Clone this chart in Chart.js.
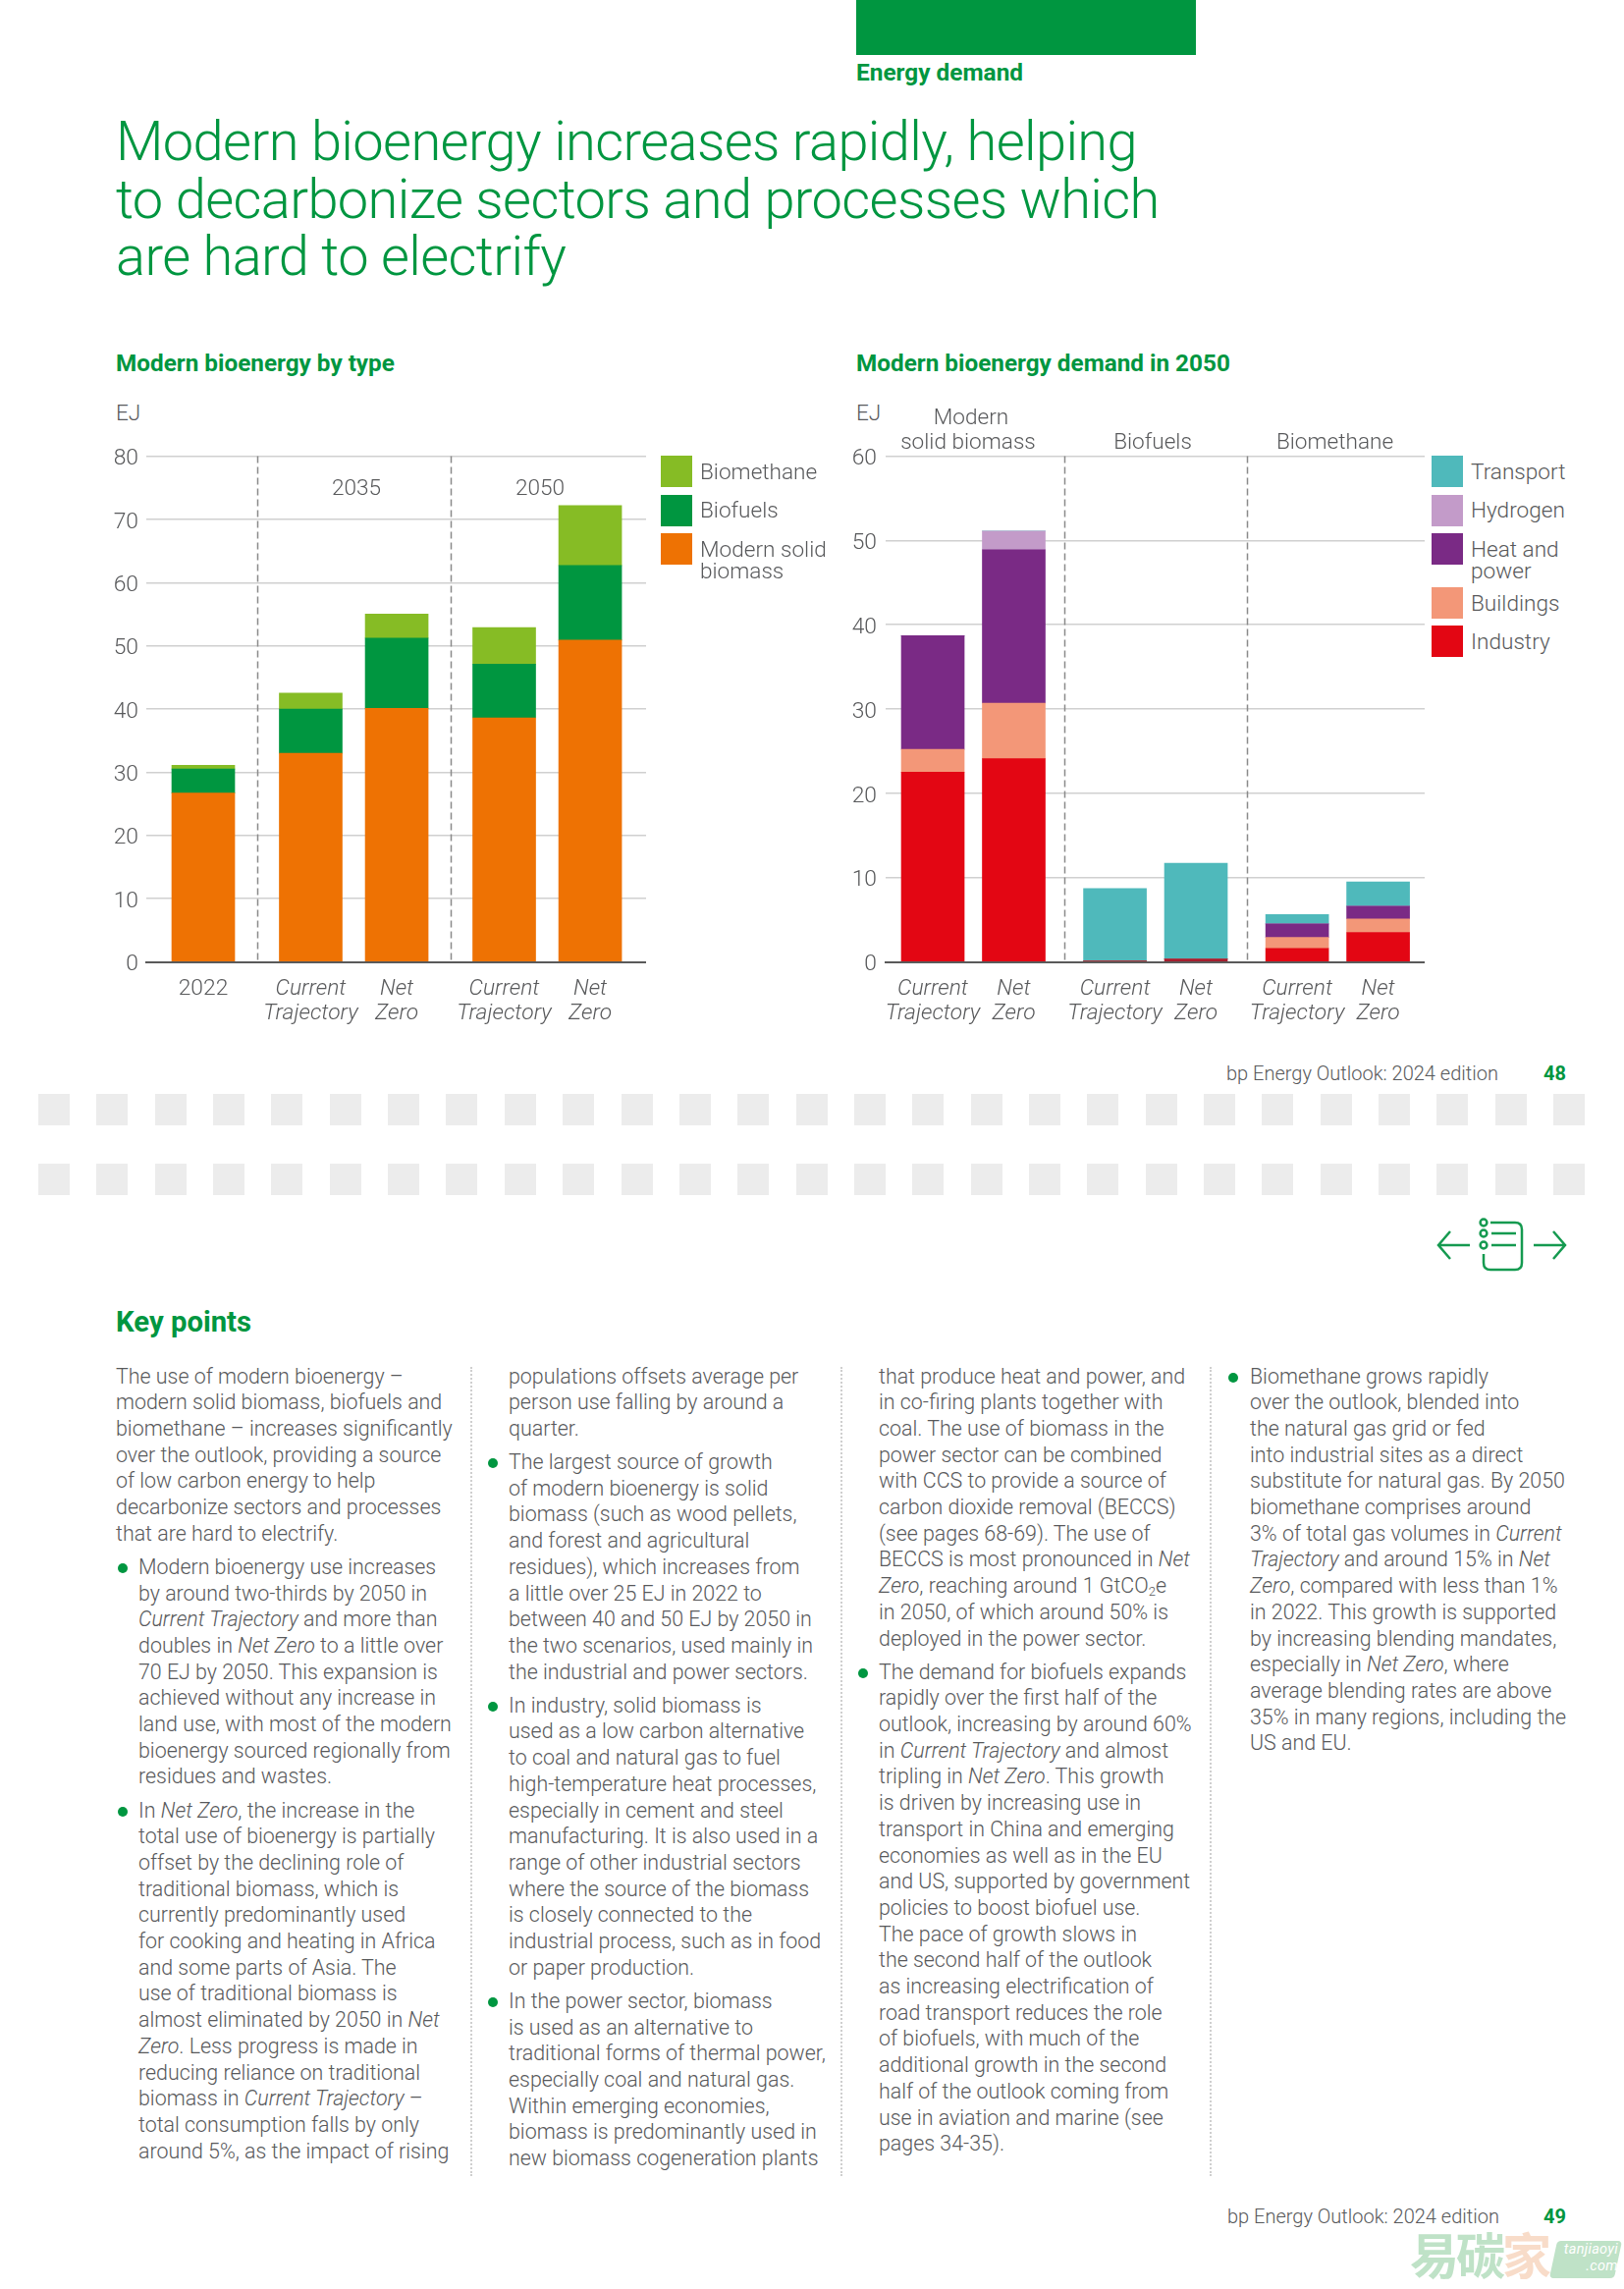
<!DOCTYPE html>
<html><head><meta charset="utf-8">
<script src="https://cdn.jsdelivr.net/npm/chart.js@4"></script>
<style>
html,body{margin:0;padding:0;background:#fff}
body{width:1654px;height:2331px;position:relative;overflow:hidden;font-family:Roboto,sans-serif;font-weight:300;color:#58595b}
.a{position:absolute;white-space:nowrap}
.g{color:#009640}
.b{font-weight:700}
canvas{position:absolute}
.sw{position:absolute;width:32px;height:32px}
.leg{position:absolute;font-size:22.6px;line-height:22px;white-space:nowrap}
.ctr{position:absolute;transform:translateX(-50%);font-size:22.6px;line-height:25px;white-space:nowrap;text-align:center}
.col{position:absolute;top:1388.5px;font-size:21.4px;line-height:26.7px;white-space:nowrap}
.col p{margin:0 0 7.4px 0;position:relative}
.bu{position:absolute;top:9px;width:10px;height:10px;border-radius:50%;background:#009640}
.dot{position:absolute;top:1392px;height:824px;border-left:2.5px dotted #cfcfcf}
sub{font-size:13px;line-height:0;vertical-align:-3px}
</style></head><body>
<div id="chrome"></div>
<div class="a" style="left:872px;top:0;width:346px;height:56px;background:#009640"></div>
<div class="a g b" style="left:872px;top:59.5px;font-size:24.4px;line-height:28px">Energy demand</div>
<div class="a g" style="left:118px;top:115px;font-size:56px;letter-spacing:-.62px;line-height:58.7px;font-weight:300">Modern bioenergy increases rapidly, helping<br>to decarbonize sectors and processes which<br>are hard to electrify</div>

<div class="a g b" style="left:118px;top:356px;font-size:24.3px;line-height:28px">Modern bioenergy by type</div>
<div class="a g b" style="left:872px;top:356px;font-size:24.3px;line-height:28px">Modern bioenergy demand in 2050</div>
<div class="a" style="left:118px;top:408px;font-size:22.6px;line-height:26px">EJ</div>
<div class="a" style="left:872px;top:408px;font-size:22.6px;line-height:26px">EJ</div>

<canvas id="c1" width="558" height="600" style="left:100px;top:450px"></canvas>
<canvas id="c2" width="590" height="600" style="left:861px;top:450px"></canvas>

<div class="ctr" style="left:363px;top:484px">2035</div>
<div class="ctr" style="left:550px;top:484px">2050</div>
<div class="ctr" style="left:986px;top:412px"><span style="position:relative;left:3px">Modern</span><br>solid biomass</div>
<div class="ctr" style="left:1174px;top:437px">Biofuels</div>
<div class="ctr" style="left:1359.5px;top:437px">Biomethane</div>

<div id="legends"></div>

<div class="a" style="left:1249px;top:1080px;font-size:20px;line-height:26px">bp Energy Outlook: 2024 edition</div>
<div class="a g b" style="left:1572px;top:1080px;font-size:20px;line-height:26px">48</div>

<svg class="a" style="left:1460px;top:1236px" width="140" height="66" viewBox="1460 1236 140 66" fill="none" stroke="#159a50" stroke-width="2.5">
<path d="M1497 1268H1466M1477 1254L1465 1268L1477 1282"/>
<path d="M1562 1268H1594M1582 1254L1594 1268L1582 1282"/>
<path d="M1518 1245H1543Q1550 1245 1550 1252V1286Q1550 1293 1543 1293H1518Q1511 1293 1511 1286V1277"/>
<circle cx="1511" cy="1245" r="3.4"/><circle cx="1511" cy="1256" r="3.4"/><circle cx="1511" cy="1268" r="3.4"/>
<path d="M1519 1256H1544M1519 1268H1544"/>
</svg>

<div class="a g b" style="left:118px;top:1329px;font-size:29.3px;line-height:34px">Key points</div>

<div class="dot" style="left:479px"></div>
<div class="dot" style="left:856px"></div>
<div class="dot" style="left:1232px"></div>

<div class="col" style="left:118px">
<p>The use of modern bioenergy –<br>modern solid biomass, biofuels and<br>biomethane – increases significantly<br>over the outlook, providing a source<br>of low carbon energy to help<br>decarbonize sectors and processes<br>that are hard to electrify.</p>
<p style="padding-left:23px"><span class="bu" style="left:2px"></span>Modern bioenergy use increases<br>by around two-thirds by 2050 in<br><i>Current Trajectory</i> and more than<br>doubles in <i>Net Zero</i> to a little over<br>70 EJ by 2050. This expansion is<br>achieved without any increase in<br>land use, with most of the modern<br>bioenergy sourced regionally from<br>residues and wastes.</p>
<p style="padding-left:23px"><span class="bu" style="left:2px"></span>In <i>Net Zero</i>, the increase in the<br>total use of bioenergy is partially<br>offset by the declining role of<br>traditional biomass, which is<br>currently predominantly used<br>for cooking and heating in Africa<br>and some parts of Asia. The<br>use of traditional biomass is<br>almost eliminated by 2050 in <i>Net<br>Zero</i>. Less progress is made in<br>reducing reliance on traditional<br>biomass in <i>Current Trajectory</i> –<br>total consumption falls by only<br>around 5%, as the impact of rising</p>
</div>

<div class="col" style="left:518px">
<p>populations offsets average per<br>person use falling by around a<br>quarter.</p>
<p><span class="bu" style="left:-21px"></span>The largest source of growth<br>of modern bioenergy is solid<br>biomass (such as wood pellets,<br>and forest and agricultural<br>residues), which increases from<br>a little over 25 EJ in 2022 to<br>between 40 and 50 EJ by 2050 in<br>the two scenarios, used mainly in<br>the industrial and power sectors.</p>
<p><span class="bu" style="left:-21px"></span>In industry, solid biomass is<br>used as a low carbon alternative<br>to coal and natural gas to fuel<br>high-temperature heat processes,<br>especially in cement and steel<br>manufacturing. It is also used in a<br>range of other industrial sectors<br>where the source of the biomass<br>is closely connected to the<br>industrial process, such as in food<br>or paper production.</p>
<p><span class="bu" style="left:-21px"></span>In the power sector, biomass<br>is used as an alternative to<br>traditional forms of thermal power,<br>especially coal and natural gas.<br>Within emerging economies,<br>biomass is predominantly used in<br>new biomass cogeneration plants</p>
</div>

<div class="col" style="left:895px">
<p>that produce heat and power, and<br>in co-firing plants together with<br>coal. The use of biomass in the<br>power sector can be combined<br>with CCS to provide a source of<br>carbon dioxide removal (BECCS)<br>(see pages 68-69). The use of<br>BECCS is most pronounced in <i>Net<br>Zero</i>, reaching around 1 GtCO<sub>2</sub>e<br>in 2050, of which around 50% is<br>deployed in the power sector.</p>
<p><span class="bu" style="left:-21px"></span>The demand for biofuels expands<br>rapidly over the first half of the<br>outlook, increasing by around 60%<br>in <i>Current Trajectory</i> and almost<br>tripling in <i>Net Zero</i>. This growth<br>is driven by increasing use in<br>transport in China and emerging<br>economies as well as in the EU<br>and US, supported by government<br>policies to boost biofuel use.<br>The pace of growth slows in<br>the second half of the outlook<br>as increasing electrification of<br>road transport reduces the role<br>of biofuels, with much of the<br>additional growth in the second<br>half of the outlook coming from<br>use in aviation and marine (see<br>pages 34-35).</p>
</div>

<div class="col" style="left:1273px">
<p><span class="bu" style="left:-22px"></span>Biomethane grows rapidly<br>over the outlook, blended into<br>the natural gas grid or fed<br>into industrial sites as a direct<br>substitute for natural gas. By 2050<br>biomethane comprises around<br>3% of total gas volumes in <i>Current<br>Trajectory</i> and around 15% in <i>Net<br>Zero</i>, compared with less than 1%<br>in 2022. This growth is supported<br>by increasing blending mandates,<br>especially in <i>Net Zero</i>, where<br>average blending rates are above<br>35% in many regions, including the<br>US and EU.</p>
</div>

<div class="a" style="left:1250px;top:2244px;font-size:20px;line-height:26px">bp Energy Outlook: 2024 edition</div>
<div class="a g b" style="left:1572px;top:2244px;font-size:20px;line-height:26px">49</div>

<div class="a" style="left:1436px;top:2264px;font-family:'Noto Sans CJK SC';font-weight:700;font-size:50px;line-height:60px;color:#bfe2c7;letter-spacing:-3px">易碳<span style="color:#f8dcc9">家</span></div>
<div class="a" style="left:1582px;top:2282px;width:66px;height:38px;background:#bfe2c7;transform:skewX(-12deg);border-radius:4px"></div>
<div class="a" style="left:1584px;top:2282px;width:64px;color:#fff;font-style:italic;font-weight:400;font-size:14.5px;line-height:17px;text-align:right;letter-spacing:.3px">tanjiaoyi<br>.com</div>

<script>
// ---------- Left chart: Modern bioenergy by type ----------
const typeLabels = [['2022'], ['Current','Trajectory'], ['Net','Zero'], ['Current','Trajectory'], ['Net','Zero']];
const modernSolidBiomass = [26.7, 33.0, 40.1, 38.6, 50.9];
const biofuels = [3.8, 7.0, 11.1, 8.5, 11.8];
const biomethane = [0.6, 2.5, 3.8, 5.8, 9.5];
const typeSlots = [0, 5, 9, 14, 18];
const typeDividers = [2.5, 11.5];

// ---------- Right chart: Modern bioenergy demand in 2050 ----------
const demandLabels = [['Current','Trajectory'], ['Net','Zero'], ['Current','Trajectory'], ['Net','Zero'], ['Current','Trajectory'], ['Net','Zero']];
const industry = [22.5, 24.1, 0.1, 0.35, 1.6, 3.5];
const buildings = [2.7, 6.6, 0, 0, 1.3, 1.6];
const heatAndPower = [13.5, 18.2, 0, 0, 1.6, 1.5];
const hydrogen = [0, 2.2, 0, 0, 0, 0];
const transport = [0, 0, 8.6, 11.35, 1.1, 2.9];
const demandSlots = [0, 4, 9, 13, 18, 22];
const demandDividers = [6.5, 15.5];

const COL = {orange:'#EE7203', green:'#009640', lime:'#86BC25', teal:'#4FB9BB', lilac:'#C39BC9', purple:'#7A2A85', salmon:'#F39778', red:'#E30613', darkRed:'#A51E2D'};
const FONT = 'Roboto, sans-serif', TXT = '#58595b', TICK = 22.8;

const legends = [
 {x:673, tx:713, items:[['Biomethane',COL.lime,464,470],['Biofuels',COL.green,504,509],['Modern solid<br>biomass',COL.orange,543,548.5]]},
 {x:1458, tx:1498, items:[['Transport',COL.teal,464,470],['Hydrogen',COL.lilac,504,509],['Heat and<br>power',COL.purple,543,548.5],['Buildings',COL.salmon,598,604],['Industry',COL.red,637,643]]}
];
const legHost = document.getElementById('legends');
legends.forEach(l=>l.items.forEach(([t,c,y,ty])=>{
  legHost.insertAdjacentHTML('beforeend',`<div class="sw" style="left:${l.x}px;top:${y}px;background:${c}"></div><div class="leg" style="left:${l.tx}px;top:${ty}px">${t}</div>`);
}));
const chrome = document.getElementById('chrome');
for(const top of [1114,1185]) for(let i=0;i<27;i++){
  chrome.insertAdjacentHTML('beforeend',`<div class="a" style="left:${39+i*59.35}px;top:${top}px;width:32px;height:32px;background:#ececec"></div>`);
}

const dividerPlugin = {
  id:'dividers',
  afterDatasetsDraw(ch, a, opts){
    const {ctx, chartArea:{top,bottom}, scales:{x}} = ch;
    ctx.save();
    ctx.strokeStyle='#8a8a8a'; ctx.lineWidth=1.5; ctx.setLineDash([7,4]);
    opts.at.forEach(v=>{
      const px = Math.round(x.getPixelForValue(v))+.5;
      ctx.beginPath(); ctx.moveTo(px,top); ctx.lineTo(px,bottom); ctx.stroke();
    });
    ctx.restore();
  }
};

function makeChart(id, slots, labels, datasets, xMin, xMax, yMax, yWidth, yPad, dividers, thick){
  new Chart(document.getElementById(id), {
    type:'bar',
    data:{datasets:datasets.map(d=>({label:d.label, backgroundColor:d.color, borderWidth:0, barThickness:thick,
      data:d.values.map((v,i)=>({x:slots[i], y:v}))}))},
    plugins:[dividerPlugin],
    options:{
      responsive:false, animation:false, devicePixelRatio:1,
      layout:{padding:{top:14.5,left:0,right:0,bottom:0}},
      plugins:{legend:{display:false}, tooltip:{enabled:false}, dividers:{at:dividers}},
      scales:{
        x:{type:'linear', stacked:true, min:xMin, max:xMax, offset:false,
          grid:{display:false, drawTicks:false},
          border:{display:true,color:'#5a5a5a',width:2},
          afterBuildTicks:s=>{s.ticks = slots.map(v=>({value:v}));},
          afterFit:s=>{s.height=70.5; s.paddingLeft=0; s.paddingRight=0;},
          ticks:{autoSkip:false, maxRotation:0, minRotation:0, padding:15, color:TXT,
            font:c=>{const i=slots.indexOf(c.tick&&c.tick.value); const l=labels[i]; return {family:FONT,size:TICK,weight:300,lineHeight:1.1,style:(l&&l.length===1)?'normal':'italic'};},
            callback:v=>labels[slots.indexOf(v)]}
        },
        y:{stacked:true, min:0, max:yMax,
          grid:{color:'#d0d0d0', lineWidth:1.5, drawTicks:false},
          border:{display:false},
          afterFit:s=>{s.width=yWidth; s.paddingTop=0; s.paddingBottom=0;},
          // the empty first line sets the figures slightly below their grid line, as in the reference
          ticks:{stepSize:10, padding:yPad, color:TXT, font:{family:FONT,size:TICK,weight:300,lineHeight:0.263},
            callback:v=>['', String(v)]}
        }
      }
    }
  });
}

function draw(){
makeChart('c1', typeSlots, typeLabels, [
  {label:'Modern solid biomass', color:COL.orange, values:modernSolidBiomass},
  {label:'Biofuels', color:COL.green, values:biofuels},
  {label:'Biomethane', color:COL.lime, values:biomethane}
], -2.65, 20.6, 80, 49, 8, typeDividers, 64);

makeChart('c2', demandSlots, demandLabels, [
  {label:'Industry', color:[COL.red,COL.red,COL.darkRed,COL.darkRed,COL.red,COL.red], values:industry},
  {label:'Buildings', color:COL.salmon, values:buildings},
  {label:'Heat and power', color:COL.purple, values:heatAndPower},
  {label:'Hydrogen', color:COL.lilac, values:hydrogen},
  {label:'Transport', color:COL.teal, values:transport}
], -2.33, 24.3, 60, 41, 9, demandDividers, 64);
}
if(document.fonts&&document.fonts.load){
  Promise.all(['300 22px Roboto','italic 300 22px Roboto'].map(f=>document.fonts.load(f))).then(draw,draw);
}else draw();
</script>
</body></html>
